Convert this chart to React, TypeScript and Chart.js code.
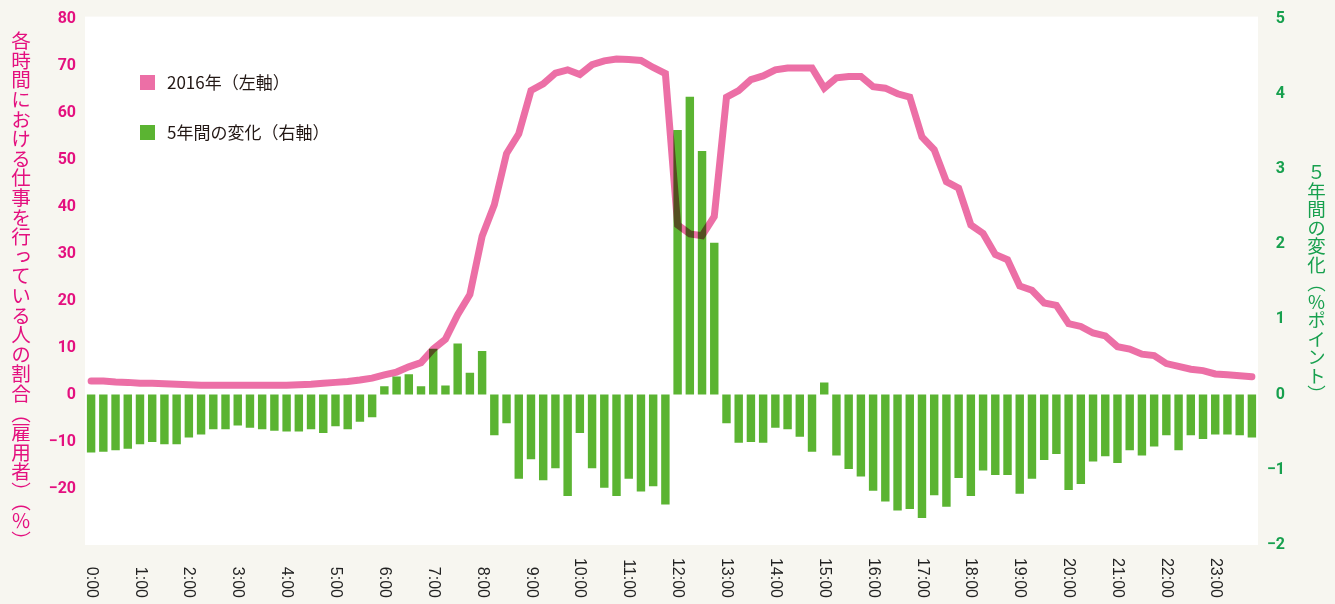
import React, { useEffect, useRef } from 'react';
import { Chart, registerables } from 'chart.js';

Chart.register(...registerables);

// ---- data ----
const hourLabels = [
  '0:00', '1:00', '2:00', '3:00', '4:00', '5:00', '6:00', '7:00', '8:00', '9:00', '10:00', '11:00',
  '12:00', '13:00', '14:00', '15:00', '16:00', '17:00', '18:00', '19:00', '20:00', '21:00', '22:00', '23:00',
];
const quarterMinutes = ['00', '15', '30', '45'];
const categories: string[] = [];
hourLabels.forEach((h) => {
  const hh = h.split(':')[0];
  quarterMinutes.forEach((m) => categories.push(`${hh}:${m}`));
});

// 2016 share of people working at each time (employees), % (left axis)
const share2016 = [
  2.9, 2.9, 2.7, 2.6, 2.4, 2.4, 2.3, 2.2,
  2.1, 2.0, 2.0, 2.0, 2.0, 2.0, 2.0, 2.0,
  2.0, 2.1, 2.2, 2.4, 2.6, 2.8, 3.1, 3.5,
  4.2, 4.8, 5.9, 6.8, 9.7, 11.8, 17.0, 21.3,
  33.7, 40.4, 51.3, 55.5, 64.7, 66.1, 68.4, 69.1,
  68.1, 70.2, 71.0, 71.4, 71.3, 71.1, 69.6, 68.3,
  36.1, 34.2, 33.8, 37.9, 63.3, 64.7, 67.0, 67.8,
  69.1, 69.5, 69.5, 69.5, 65.2, 67.4, 67.7, 67.7,
  65.5, 65.2, 64.0, 63.3, 54.8, 52.1, 45.3, 43.9,
  36.1, 34.3, 29.8, 28.7, 23.1, 22.2, 19.5, 19.0,
  15.1, 14.5, 13.1, 12.5, 10.2, 9.7, 8.6, 8.3,
  6.6, 6.0, 5.4, 5.1, 4.4, 4.2, 4.0, 3.8,
];

// change over 5 years, percentage points (right axis)
const change5y = [
  -0.77, -0.76, -0.74, -0.72, -0.66, -0.63, -0.66, -0.66,
  -0.57, -0.53, -0.46, -0.46, -0.41, -0.44, -0.46, -0.48,
  -0.49, -0.49, -0.46, -0.51, -0.42, -0.46, -0.36, -0.30,
  0.11, 0.24, 0.27, 0.11, 0.61, 0.12, 0.68, 0.29,
  0.58, -0.54, -0.38, -1.12, -0.86, -1.14, -0.98, -1.35,
  -0.51, -0.98, -1.24, -1.35, -1.12, -1.29, -1.22, -1.46,
  3.52, 3.96, 3.24, 2.02, -0.38, -0.64, -0.63, -0.64,
  -0.44, -0.46, -0.56, -0.76, 0.16, -0.81, -0.99, -1.09,
  -1.28, -1.42, -1.54, -1.52, -1.64, -1.34, -1.49, -1.11,
  -1.35, -1.01, -1.07, -1.07, -1.32, -1.12, -0.87, -0.79,
  -1.27, -1.19, -0.89, -0.82, -0.91, -0.74, -0.81, -0.69,
  -0.54, -0.74, -0.54, -0.59, -0.53, -0.53, -0.54, -0.57,
];

const leftTicks = [-20, -10, 0, 10, 20, 30, 40, 50, 60, 70, 80];
const rightTicks = [-2, -1, 0, 1, 2, 3, 4, 5];

const seriesNames = ['2016年（左軸）', '5年間の変化（右軸）'];
const leftTitle = '各時間における仕事を行っている人の割合（雇用者）（％）';
const rightTitle = '５年間の変化（％ポイント）';

// ---- styles ----
const PAGE_BG = '#F7F6F0';
const PINK_LINE = '#EC6FA6';
const GREEN_BAR = '#5BB432';
const PINK_TEXT = '#E4107F';
const GREEN_TEXT = '#17A04E';
const W = 1335;
const H = 604;

const fmt = (v: number) => (v < 0 ? '\u2212' + Math.abs(v) : String(v));

export default function App() {
  const ref = useRef<HTMLCanvasElement | null>(null);

  useEffect(() => {
    if (!ref.current) return;

    const bgPlugin = {
      id: 'bgPlugin',
      beforeDraw(chart: any) {
        const { ctx, chartArea: a } = chart;
        ctx.save();
        ctx.fillStyle = PAGE_BG;
        ctx.fillRect(0, 0, chart.width, chart.height);
        ctx.fillStyle = '#ffffff';
        ctx.fillRect(a.left, a.top - 2, a.right - a.left, a.bottom - a.top + 2);
        ctx.restore();
      },
      beforeDatasetDraw(chart: any, args: any) {
        if (chart.data.datasets[args.index].type === 'line') {
          chart.ctx.save();
          chart.ctx.globalCompositeOperation = 'multiply';
        }
      },
      afterDatasetDraw(chart: any, args: any) {
        if (chart.data.datasets[args.index].type === 'line') {
          chart.ctx.restore();
        }
      },
      afterDraw(chart: any) {
        const { ctx } = chart;
        const xs = chart.scales.x;
        // x labels, rotated clockwise
        ctx.save();
        ctx.fillStyle = '#222222';
        ctx.font = '16px "Liberation Sans", Arial, sans-serif';
        hourLabels.forEach((lab, h) => {
          const x = xs.getPixelForValue(h * 4);
          ctx.save();
          ctx.translate(x, 598);
          ctx.rotate(Math.PI / 2);
          ctx.textAlign = 'right';
          ctx.textBaseline = 'middle';
          ctx.fillText(lab, 0, 0);
          ctx.restore();
        });
        ctx.restore();

        // legend inside plot
        const colors = [PINK_LINE, GREEN_BAR];
        const ys = [82, 132];
        ctx.save();
        ctx.font = '17px "Noto Sans CJK JP", sans-serif';
        ctx.textBaseline = 'middle';
        ctx.textAlign = 'left';
        seriesNames.forEach((name, i) => {
          ctx.fillStyle = colors[i];
          ctx.fillRect(140, ys[i] - 7, 15, 15);
          ctx.fillStyle = '#231815';
          ctx.fillText(name, 167, ys[i] + 1);
        });
        ctx.restore();
      },
    };

    const chart = new Chart(ref.current, {
      type: 'bar',
      data: {
        labels: categories,
        datasets: [
          {
            type: 'line',
            label: seriesNames[0],
            data: share2016,
            yAxisID: 'y',
            borderColor: PINK_LINE,
            backgroundColor: PINK_LINE,
            borderWidth: 7,
            pointRadius: 0,
            tension: 0,
            borderCapStyle: 'round',
            borderJoinStyle: 'miter',
            order: 0,
          } as any,
          {
            type: 'bar',
            label: seriesNames[1],
            data: change5y,
            yAxisID: 'y2',
            backgroundColor: GREEN_BAR,
            borderWidth: 0,
            barPercentage: 0.69,
            categoryPercentage: 1,
            order: 1,
          } as any,
        ],
      },
      options: {
        responsive: false,
        animation: false,
        layout: { padding: { top: 16, bottom: 59, left: 0, right: 50 } },
        plugins: {
          legend: { display: false },
          tooltip: { enabled: false },
        },
        scales: {
          x: {
            display: false,
            offset: true,
            grid: { display: false },
          },
          y: {
            position: 'left',
            min: -32,
            max: 80,
            grid: { display: false, drawTicks: false },
            border: { display: false },
            afterBuildTicks: (scale: any) => {
              scale.ticks = leftTicks.map((v) => ({ value: v }));
            },
            afterFit: (scale: any) => {
              scale.width = 85;
            },
            ticks: {
              padding: 9,
              color: PINK_TEXT,
              font: { family: 'Roboto, "DejaVu Sans", sans-serif', size: 16, weight: 'bold' },
              callback: (v: any) => fmt(Number(v)),
            },
          },
          y2: {
            position: 'right',
            min: -2,
            max: 5,
            grid: { display: false, drawTicks: false },
            border: { display: false },
            afterBuildTicks: (scale: any) => {
              scale.ticks = rightTicks.map((v) => ({ value: v }));
            },
            afterFit: (scale: any) => {
              scale.width = 27;
            },
            ticks: {
              padding: 9,
              crossAlign: 'far',
              color: GREEN_TEXT,
              font: { family: 'Roboto, "DejaVu Sans", sans-serif', size: 16, weight: 'bold' },
              callback: (v: any) => fmt(Number(v)),
            },
          },
        },
      } as any,
      plugins: [bgPlugin],
    });

    return () => chart.destroy();
  }, []);

  const titleBase: React.CSSProperties = {
    position: 'absolute',
    writingMode: 'vertical-rl',
    fontFamily: '"Noto Sans CJK JP", sans-serif',
    whiteSpace: 'nowrap',
    lineHeight: 1,
  };

  return (
    <div style={{ position: 'fixed', left: 0, top: 0, width: W, height: H, background: PAGE_BG }}>
      <canvas ref={ref} width={W} height={H} style={{ position: 'absolute', left: 0, top: 0, width: W, height: H }} />
      <div style={{ ...titleBase, left: 11, top: 31, fontSize: 19.6, color: PINK_TEXT }}>{leftTitle}</div>
      <div style={{ ...titleBase, left: 1307, top: 163, fontSize: 18.5, color: GREEN_TEXT }}>{rightTitle}</div>
    </div>
  );
}
